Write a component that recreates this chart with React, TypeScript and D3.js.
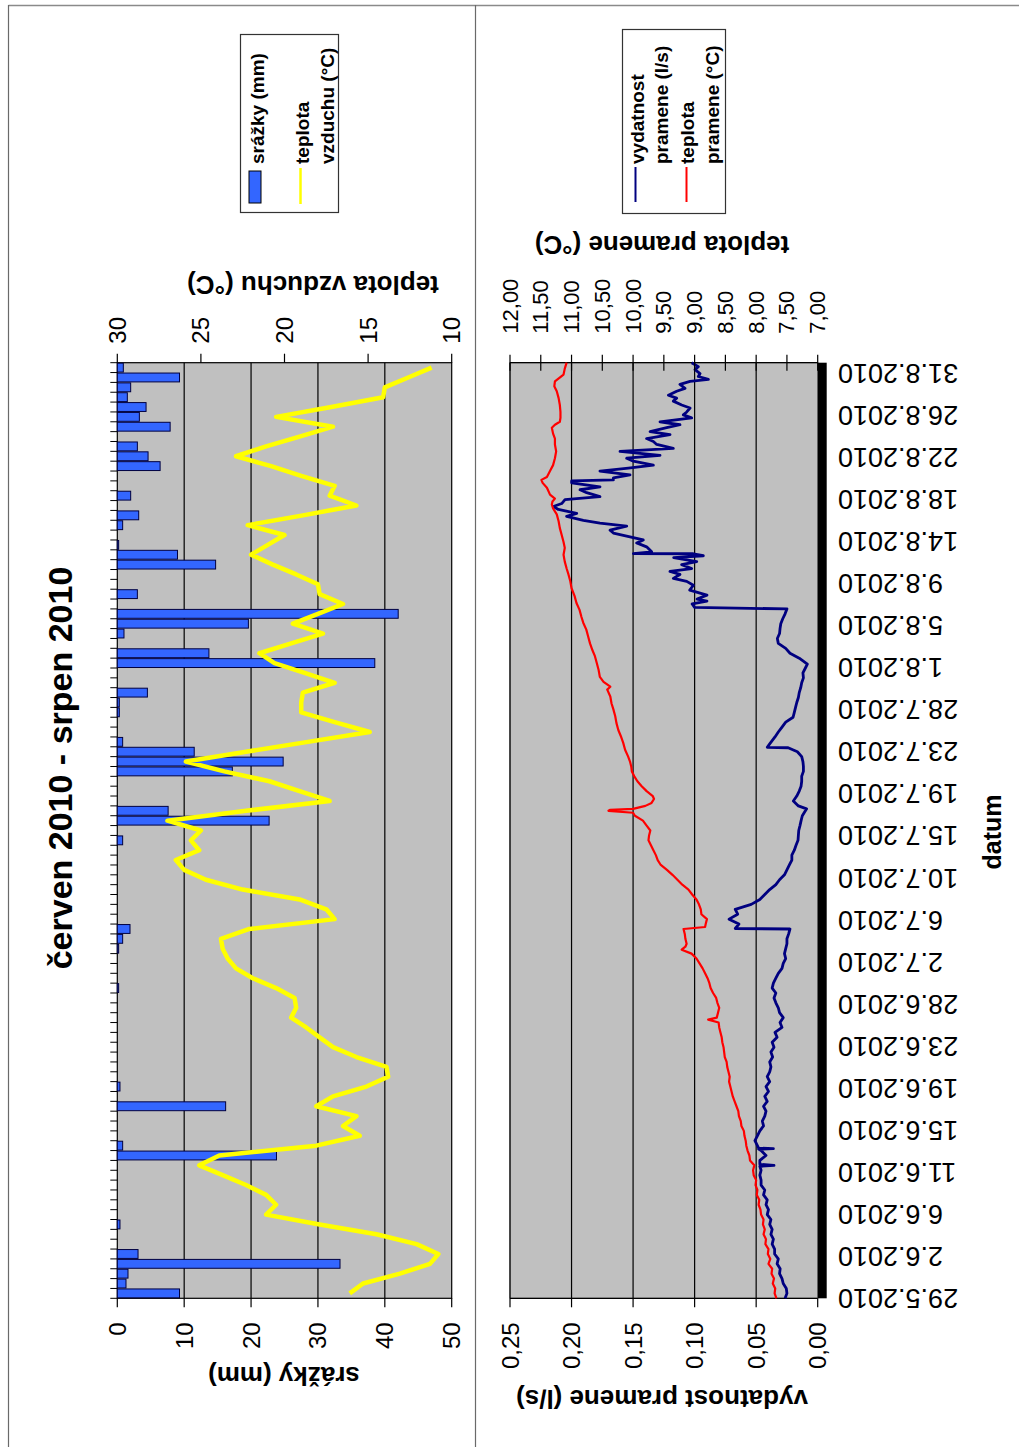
import React from 'react';
import * as d3 from 'd3';

// page size (the whole sheet is turned by -90deg, so the time axis runs bottom -> top)
const W = 1019;
const H = 1447;

// ---- data ----
const title = 'červen 2010 - srpen 2010';

// daily precipitation 29.5.2010 .. 31.8.2010 (mm)
const precipitation = [
  9.3, 1.3, 1.6, 33.3, 3.1, 0, 0, 0.4, 0, 0,
  0, 0, 0, 0, 23.8, 0.8, 0, 0, 0, 16.2,
  0, 0.4, 0, 0, 0, 0, 0, 0, 0, 0,
  0, 0.2, 0, 0, 0, 0.2, 0.8, 1.9, 0, 0,
  0, 0, 0, 0, 0, 0, 0.8, 0, 22.7, 7.6,
  0, 0, 0, 17.2, 24.8, 11.5, 0.8, 0, 0, 0.3,
  0.3, 4.5, 0, 0, 38.5, 13.7, 0, 1.0, 19.6, 42.0,
  0, 3.0, 0, 0, 14.7, 9.0, 0.2, 0, 0.8, 3.2,
  0, 2.0, 0, 0, 6.4, 4.6, 3.0, 0, 7.9, 3.3,
  4.3, 1.5, 2.0, 9.3, 0.9,
];

// daily air temperature (°C)
const airTemp = [
  16.1, 15.3, 13.1, 11.3, 10.8, 12.1, 14.5, 17.9, 21.1, 20.5,
  21.1, 22.3, 23.7, 25.1, 23.9, 18.1, 15.5, 16.5, 15.7, 18.1,
  17.1, 15.1, 13.8, 13.9, 15.7, 17.1, 17.9, 18.7, 19.6, 19.3,
  19.4, 20.5, 21.9, 22.9, 23.4, 23.7, 23.8, 22.1, 17.0, 17.5,
  19.1, 22.5, 24.7, 26.0, 26.5, 25.1, 25.6, 25.0, 27.0, 22.3,
  17.3, 19.1, 20.9, 23.6, 25.9, 22.3, 18.6, 14.9, 17.0, 19.0,
  19.0, 18.9, 17.0, 18.8, 20.6, 21.5, 19.6, 17.7, 19.5, 18.0,
  16.5, 17.9, 18.0, 19.3, 20.7, 22.0, 21.0, 20.0, 22.2, 18.9,
  15.7, 17.3, 17.0, 19.0, 20.8, 22.9, 21.1, 19.1, 17.1, 20.5,
  17.2, 14.1, 14.0, 12.6, 11.2,
];

// spring yield [days since 29.5.2010 0:00, l/s]
const springYield: [number, number][] = [
  [0, 0.0265], [0.5, 0.025], [1, 0.0255], [1.5, 0.028], [2, 0.029], [2.5, 0.031], [3, 0.0305], [3.5, 0.033],
  [4, 0.032], [4.5, 0.035], [5, 0.035], [5.5, 0.037], [6, 0.036], [6.5, 0.038], [7, 0.037], [7.5, 0.039],
  [8, 0.038], [8.5, 0.041], [9, 0.040], [9.5, 0.042], [10, 0.041], [10.5, 0.044], [11, 0.043], [11.5, 0.046],
  [12, 0.046], [12.5, 0.047], [13, 0.046], [13.4, 0.047], [13.5, 0.0355], [13.6, 0.047], [14, 0.047], [14.5, 0.042],
  [15, 0.046], [15.15, 0.048], [15.2, 0.036], [15.25, 0.048], [15.5, 0.049], [16, 0.051], [16.5, 0.049], [17, 0.047],
  [17.5, 0.044], [18, 0.045], [18.5, 0.043], [19, 0.042], [19.5, 0.044], [20, 0.041], [20.5, 0.043], [21, 0.040],
  [21.5, 0.042], [22, 0.039], [22.5, 0.041], [23, 0.039], [23.5, 0.038], [24, 0.039], [24.5, 0.0366], [25, 0.038],
  [25.5, 0.0355], [26, 0.037], [26.5, 0.033], [27, 0.0347], [27.5, 0.029], [28, 0.0306], [28.5, 0.028], [29, 0.031],
  [29.5, 0.032], [30, 0.034], [30.5, 0.0355], [31, 0.034], [31.5, 0.037], [32, 0.036], [32.5, 0.034], [33, 0.032],
  [33.5, 0.029], [34, 0.028], [34.5, 0.026], [35, 0.027], [35.5, 0.026], [36, 0.025], [36.5, 0.025], [37, 0.0236],
  [37.5, 0.0225], [37.55, 0.067], [38, 0.064], [38.5, 0.072], [39, 0.065], [39.5, 0.067], [40, 0.054], [40.5, 0.047],
  [41, 0.043], [41.5, 0.039], [42, 0.034], [42.5, 0.031], [43, 0.027], [43.5, 0.025], [44, 0.023], [44.5, 0.021],
  [45, 0.021], [45.5, 0.019], [46, 0.0176], [46.5, 0.016], [47, 0.0157], [47.5, 0.0154], [48, 0.0144], [48.5, 0.0135],
  [49, 0.0125], [49.5, 0.010], [49.7, 0.009], [50, 0.0157], [50.5, 0.0198], [51, 0.017], [51.5, 0.015], [52, 0.0135],
  [52.5, 0.013], [53, 0.013], [53.5, 0.0116], [54, 0.0116], [54.5, 0.012], [55, 0.013], [55.5, 0.0165], [55.9, 0.024],
  [55.95, 0.041], [56.3, 0.039], [57, 0.0347], [57.5, 0.032], [58, 0.029], [58.5, 0.026], [59, 0.020], [59.5, 0.019],
  [60, 0.018], [60.5, 0.017], [61, 0.0157], [61.5, 0.015], [62, 0.0138], [62.5, 0.013], [63, 0.0116], [63.5, 0.012],
  [64, 0.010], [64.4, 0.0084], [65, 0.015], [65.5, 0.0225], [66, 0.026], [66.5, 0.032], [67, 0.0328], [67.5, 0.031],
  [68, 0.0306], [68.5, 0.030], [69, 0.0284], [69.5, 0.0265], [70, 0.025], [70.15, 0.100], [70.5, 0.102], [70.8, 0.090],
  [71, 0.098], [71.4, 0.090], [71.9, 0.104], [72.4, 0.101], [72.8, 0.1064], [73.1, 0.1173], [73.5, 0.1119], [73.8, 0.12],
  [74.1, 0.1024], [74.5, 0.1105], [74.8, 0.0983], [75.2, 0.117], [75.4, 0.0929], [75.6, 0.101], [75.62, 0.1498], [75.8, 0.1349],
  [76.3, 0.139], [76.7, 0.1471], [77.0, 0.1417], [77.4, 0.1552], [77.7, 0.166], [78.0, 0.1687], [78.4, 0.1552], [78.7, 0.1769],
  [79.0, 0.1904], [79.4, 0.204], [79.7, 0.1958], [80.1, 0.2107], [80.4, 0.2148], [80.7, 0.208], [81.1, 0.2053], [81.4, 0.1769],
  [81.8, 0.1877], [82.1, 0.1931], [82.4, 0.1769], [82.8, 0.1999], [83.0, 0.1999], [83.1, 0.166], [83.3, 0.166], [83.6, 0.1525],
  [84.0, 0.1769], [84.3, 0.1538], [84.6, 0.1335], [85.0, 0.1498], [85.3, 0.1552], [85.6, 0.1281], [86.0, 0.1606], [86.3, 0.1173],
  [86.7, 0.1308], [87.0, 0.1335], [87.3, 0.139], [87.7, 0.12], [88.0, 0.1362], [88.4, 0.1227], [88.7, 0.1119], [89.0, 0.1281],
  [89.4, 0.1024], [89.7, 0.1092], [90.0, 0.1064], [90.4, 0.1037], [90.7, 0.1105], [91.1, 0.1173], [91.4, 0.1146], [91.7, 0.1213],
  [92.1, 0.1146], [92.4, 0.1078], [92.8, 0.1119], [93.1, 0.1037], [93.3, 0.0888], [93.6, 0.097], [93.9, 0.0956], [94.3, 0.0997],
  [94.6, 0.097], [95, 0.1024],
];

// spring water temperature [days since 29.5.2010 0:00, °C]
const springTemp: [number, number][] = [
  [0, 7.67], [0.5, 7.70], [1, 7.69], [1.5, 7.73], [2, 7.71], [2.5, 7.75], [3, 7.74], [3.5, 7.80],
  [4, 7.77], [4.5, 7.81], [5, 7.80], [5.5, 7.85], [6, 7.84], [6.5, 7.88], [7, 7.86], [7.5, 7.89],
  [8, 7.88], [8.5, 7.92], [9, 7.93], [9.5, 7.96], [10, 7.95], [10.5, 7.99], [11, 7.98], [11.5, 8.01],
  [12, 8.00], [12.5, 8.04], [13, 8.05], [13.5, 8.03], [14, 8.10], [14.5, 8.11], [15, 8.14], [15.5, 8.16],
  [16, 8.17], [16.5, 8.19], [17, 8.20], [17.5, 8.24], [18, 8.25], [18.5, 8.28], [19, 8.29], [19.5, 8.32],
  [20, 8.35], [20.5, 8.38], [21, 8.40], [21.5, 8.42], [22, 8.44], [22.5, 8.43], [23, 8.45], [23.5, 8.47],
  [24, 8.48], [24.5, 8.51], [25, 8.52], [25.5, 8.53], [26, 8.55], [26.5, 8.56], [27, 8.58], [27.5, 8.60],
  [28, 8.61], [28.3, 8.78], [28.5, 8.64], [29, 8.62], [29.5, 8.60], [30, 8.63], [30.5, 8.65], [31, 8.70],
  [31.5, 8.74], [32, 8.76], [32.5, 8.79], [33, 8.83], [33.5, 8.87], [34, 8.92], [34.5, 8.97], [35, 9.05],
  [35.4, 9.21], [35.7, 9.15], [36, 9.13], [36.5, 9.15], [37, 9.16], [37.5, 9.18], [37.7, 8.83], [38, 8.82],
  [38.5, 8.80], [39, 8.89], [39.5, 8.90], [40, 8.93], [40.5, 8.97], [41, 9.04], [41.5, 9.10], [42, 9.20],
  [42.5, 9.28], [43, 9.36], [43.5, 9.45], [44, 9.55], [44.5, 9.60], [45, 9.63], [45.5, 9.67], [46, 9.71],
  [46.5, 9.75], [47, 9.74], [47.5, 9.72], [48, 9.78], [48.5, 9.84], [49, 9.97], [49.3, 10.00], [49.5, 10.40],
  [49.6, 10.37], [49.7, 10.00], [50, 9.80], [50.3, 9.70], [50.7, 9.66], [51, 9.68], [51.5, 9.78], [52, 9.86],
  [52.5, 9.93], [53, 9.98], [53.5, 10.02], [54, 10.03], [54.5, 10.05], [55, 10.08], [55.7, 10.13], [56.4, 10.16],
  [57.1, 10.20], [57.7, 10.24], [58.4, 10.27], [59.1, 10.29], [59.8, 10.32], [60.4, 10.35], [61.1, 10.37], [61.8, 10.42],
  [62.1, 10.37], [62.6, 10.48], [63.1, 10.54], [63.8, 10.56], [64.5, 10.59], [65.2, 10.62], [65.8, 10.66], [66.5, 10.70],
  [67.2, 10.73], [67.9, 10.76], [68.6, 10.81], [69.2, 10.84], [69.9, 10.87], [70.6, 10.92], [71.3, 10.95], [72.1, 11.00],
  [72.8, 11.02], [73.5, 11.05], [74.1, 11.08], [74.8, 11.11], [75.5, 11.13], [76.2, 11.11], [76.8, 11.13], [77.5, 11.16],
  [78.2, 11.19], [78.9, 11.21], [79.6, 11.24], [80.2, 11.30], [80.6, 11.32], [80.9, 11.31], [81.2, 11.27], [81.6, 11.35],
  [82.3, 11.40], [82.8, 11.47], [83.1, 11.49], [83.4, 11.40], [84.0, 11.35], [84.6, 11.30], [85.3, 11.27], [86.0, 11.25],
  [86.7, 11.27], [87.3, 11.27], [87.8, 11.30], [88.4, 11.32], [88.7, 11.27], [89.0, 11.19], [89.4, 11.18], [90.0, 11.18],
  [90.7, 11.19], [91.4, 11.21], [92.1, 11.24], [92.6, 11.28], [93.1, 11.27], [93.8, 11.13], [94.4, 11.11], [95, 11.08],
];

const dateLabels = [
  '29.5.2010', '2.6.2010', '6.6.2010', '11.6.2010', '15.6.2010', '19.6.2010', '23.6.2010', '28.6.2010',
  '2.7.2010', '6.7.2010', '10.7.2010', '15.7.2010', '19.7.2010', '23.7.2010', '28.7.2010', '1.8.2010',
  '5.8.2010', '9.8.2010', '14.8.2010', '18.8.2010', '22.8.2010', '26.8.2010', '31.8.2010',
];
const rainTicks = [0, 10, 20, 30, 40, 50];
const airTicks = [10, 15, 20, 25, 30];
const yieldTicks = [0, 0.05, 0.1, 0.15, 0.2, 0.25];
const springTicks = [7, 7.5, 8, 8.5, 9, 9.5, 10, 10.5, 11, 11.5, 12];

// ---- layout ----
const PLOT_TOP = 362.7;
const PLOT_BOTTOM = 1298.3;
const A_LEFT = 117.3;
const A_RIGHT = 451.7;
const B_LEFT = 510;
const B_RIGHT = 817.7;
const FONT = '"Liberation Sans", Arial, Helvetica, sans-serif';

const comma = (f: string) => (v: number) => d3.format(f)(v).replace('.', ',');
const rot = (x: number, y: number, a: number) => `translate(${x},${y}) rotate(${a})`;

export default function App() {
  const days = d3.range(precipitation.length);
  const yBand = d3.scaleBand<number>().domain(days).range([PLOT_BOTTOM, PLOT_TOP]).paddingInner(0.1).paddingOuter(0.05);
  const yDays = d3.scaleLinear().domain([0, precipitation.length]).range([PLOT_BOTTOM, PLOT_TOP]);
  const yLabels = d3.scalePoint<string>().domain(dateLabels).range([yDays(0), yDays(94)]);

  const xRain = d3.scaleLinear().domain([0, 50]).range([A_LEFT, A_RIGHT]);
  const xAir = d3.scaleLinear().domain([10, 30]).range([A_RIGHT, A_LEFT]);
  const xYield = d3.scaleLinear().domain([0, 0.25]).range([B_RIGHT, B_LEFT]);
  const xSpring = d3.scaleLinear().domain([7, 12]).range([B_RIGHT, B_LEFT]);

  const bw = yBand.bandwidth();
  const airLine = d3.line<number>()
    .x(t => xAir(t))
    .y((_, i) => (yBand(i) as number) + bw / 2);
  const yieldLine = d3.line<[number, number]>().x(d => xYield(d[1])).y(d => yDays(d[0]));
  const springLine = d3.line<[number, number]>().x(d => xSpring(d[1])).y(d => yDays(d[0]));

  const fmtYield = comma('.2f');
  const fmtSpring = comma('.2f');

  return (
    <svg width={W} height={H} style={{ display: 'block', background: '#fff', fontFamily: FONT }}>
      <style>{'body{margin:0}'}</style>

      {/* page frame */}
      <line x1={8.5} x2={W} y1={5.5} y2={5.5} stroke="#8a8a8a" strokeWidth={1.5} />
      <line x1={8.5} x2={8.5} y1={5} y2={H} stroke="#6a6a6a" strokeWidth={1.2} />
      <line x1={475.5} x2={475.5} y1={5} y2={H} stroke="#6a6a6a" strokeWidth={1.2} />

      {/* title */}
      <text transform={rot(72, 768, -90)} textAnchor="middle" fontSize={34} fontWeight="bold">{title}</text>

      {/* ===== chart A : precipitation + air temperature ===== */}
      <rect x={A_LEFT} y={PLOT_TOP} width={A_RIGHT - A_LEFT} height={PLOT_BOTTOM - PLOT_TOP} fill="#c0c0c0" stroke="#000" strokeWidth={1.2} />
      {rainTicks.filter(v => v > 0 && v < 50).map(v => (
        <line key={'gA' + v} x1={xRain(v)} x2={xRain(v)} y1={PLOT_TOP} y2={PLOT_BOTTOM} stroke="#000" strokeWidth={1.2} />
      ))}
      {precipitation.map((v, i) => v > 0 && (
        <rect key={'b' + i} x={xRain(0)} y={yBand(i)} width={xRain(v) - xRain(0)} height={bw}
          fill="#3366ff" stroke="#000040" strokeWidth={1} />
      ))}
      <path d={airLine(airTemp) || ''} fill="none" stroke="#ffff00" strokeWidth={4.5} strokeLinejoin="round" />

      {/* category ticks */}
      {d3.range(precipitation.length + 1).map(i => (
        <line key={'ct' + i} x1={A_LEFT - 7} x2={A_LEFT} y1={yDays(i)} y2={yDays(i)} stroke="#000" strokeWidth={1} />
      ))}
      {/* rain axis (bottom) */}
      {rainTicks.map(v => (
        <g key={'rt' + v}>
          <line x1={xRain(v)} x2={xRain(v)} y1={PLOT_BOTTOM} y2={PLOT_BOTTOM + 9} stroke="#000" strokeWidth={1.2} />
          <text transform={rot(xRain(v), PLOT_BOTTOM + 24, -90)} textAnchor="end" dominantBaseline="central" fontSize={24}>{v}</text>
        </g>
      ))}
      {/* air temperature axis (top) */}
      {airTicks.map(v => (
        <g key={'at' + v}>
          <line x1={xAir(v)} x2={xAir(v)} y1={PLOT_TOP - 9} y2={PLOT_TOP} stroke="#000" strokeWidth={1.2} />
          <text transform={rot(xAir(v), PLOT_TOP - 19, -90)} textAnchor="start" dominantBaseline="central" fontSize={24}>{v}</text>
        </g>
      ))}
      <text transform={rot(284, 1376, 180)} textAnchor="middle" dominantBaseline="central" fontSize={26} fontWeight="bold">srážky (mm)</text>
      <text transform={rot(313, 285, 180)} textAnchor="middle" dominantBaseline="central" fontSize={26} fontWeight="bold">teplota vzduchu (°C)</text>

      {/* legend A */}
      <rect x={240.5} y={34.5} width={98} height={178} fill="#fff" stroke="#333" strokeWidth={1.2} />
      <rect x={249} y={171} width={12} height={32} fill="#3366ff" stroke="#000" strokeWidth={1} />
      <text transform={rot(257, 164, -90)} textAnchor="start" dominantBaseline="central" fontSize={19} fontWeight="bold">srážky (mm)</text>
      <line x1={300.5} x2={300.5} y1={168} y2={204} stroke="#ffff00" strokeWidth={2.5} />
      <text transform={rot(302, 164, -90)} textAnchor="start" dominantBaseline="central" fontSize={19} fontWeight="bold">teplota</text>
      <text transform={rot(327, 164, -90)} textAnchor="start" dominantBaseline="central" fontSize={19} fontWeight="bold">vzduchu (°C)</text>

      {/* ===== chart B : spring yield + spring temperature ===== */}
      <rect x={B_LEFT} y={PLOT_TOP} width={B_RIGHT - B_LEFT} height={PLOT_BOTTOM - PLOT_TOP} fill="#c0c0c0" stroke="#808080" strokeWidth={1.2} />
      {yieldTicks.filter(v => v > 0).map(v => (
        <line key={'gB' + v} x1={xYield(v)} x2={xYield(v)} y1={PLOT_TOP} y2={PLOT_BOTTOM} stroke="#000" strokeWidth={1.2} />
      ))}
      <line x1={B_LEFT} x2={B_RIGHT} y1={PLOT_TOP} y2={PLOT_TOP} stroke="#000" strokeWidth={1.2} />
      <line x1={B_LEFT} x2={B_RIGHT} y1={PLOT_BOTTOM} y2={PLOT_BOTTOM} stroke="#000" strokeWidth={1.2} />
      <path d={yieldLine(springYield) || ''} fill="none" stroke="#000080" strokeWidth={2.8} strokeLinejoin="round" />
      <path d={springLine(springTemp) || ''} fill="none" stroke="#ff0000" strokeWidth={2.2} strokeLinejoin="round" />
      {/* dense time-axis ticks, drawn as a black band */}
      <rect x={B_RIGHT} y={PLOT_TOP} width={9} height={PLOT_BOTTOM - PLOT_TOP} fill="#000" />

      {yieldTicks.map(v => (
        <g key={'yt' + v}>
          <line x1={xYield(v)} x2={xYield(v)} y1={PLOT_BOTTOM} y2={PLOT_BOTTOM + 9} stroke="#000" strokeWidth={1.2} />
          <text transform={rot(xYield(v), PLOT_BOTTOM + 24, -90)} textAnchor="end" dominantBaseline="central" fontSize={24}>{fmtYield(v)}</text>
        </g>
      ))}
      {springTicks.map(v => (
        <g key={'st' + v}>
          <line x1={xSpring(v)} x2={xSpring(v)} y1={PLOT_TOP - 8} y2={PLOT_TOP + 8} stroke="#000" strokeWidth={1.2} />
          <text transform={rot(xSpring(v), PLOT_TOP - 29, -90)} textAnchor="start" dominantBaseline="central" fontSize={22}>{fmtSpring(v)}</text>
        </g>
      ))}
      {dateLabels.map(s => (
        <text key={s} transform={rot(838, yLabels(s) as number, 180)} textAnchor="end" dominantBaseline="central" fontSize={27}>{s}</text>
      ))}
      <text transform={rot(992, 832, -90)} textAnchor="middle" dominantBaseline="central" fontSize={25} fontWeight="bold">datum</text>
      <text transform={rot(662, 1399, 180)} textAnchor="middle" dominantBaseline="central" fontSize={26} fontWeight="bold">vydatnost pramene (l/s)</text>
      <text transform={rot(662, 245, 180)} textAnchor="middle" dominantBaseline="central" fontSize={26} fontWeight="bold">teplota pramene (°C)</text>

      {/* legend B */}
      <rect x={622.5} y={29.5} width={103} height={184} fill="#fff" stroke="#333" strokeWidth={1.2} />
      <line x1={635.5} x2={635.5} y1={167} y2={202} stroke="#000080" strokeWidth={2} />
      <text transform={rot(637, 164, -90)} textAnchor="start" dominantBaseline="central" fontSize={19} fontWeight="bold">vydatnost</text>
      <text transform={rot(661, 164, -90)} textAnchor="start" dominantBaseline="central" fontSize={19} fontWeight="bold">pramene (l/s)</text>
      <line x1={686.5} x2={686.5} y1={167} y2={202} stroke="#ff0000" strokeWidth={2} />
      <text transform={rot(687, 164, -90)} textAnchor="start" dominantBaseline="central" fontSize={19} fontWeight="bold">teplota</text>
      <text transform={rot(712, 164, -90)} textAnchor="start" dominantBaseline="central" fontSize={19} fontWeight="bold">pramene (°C)</text>
    </svg>
  );
}
